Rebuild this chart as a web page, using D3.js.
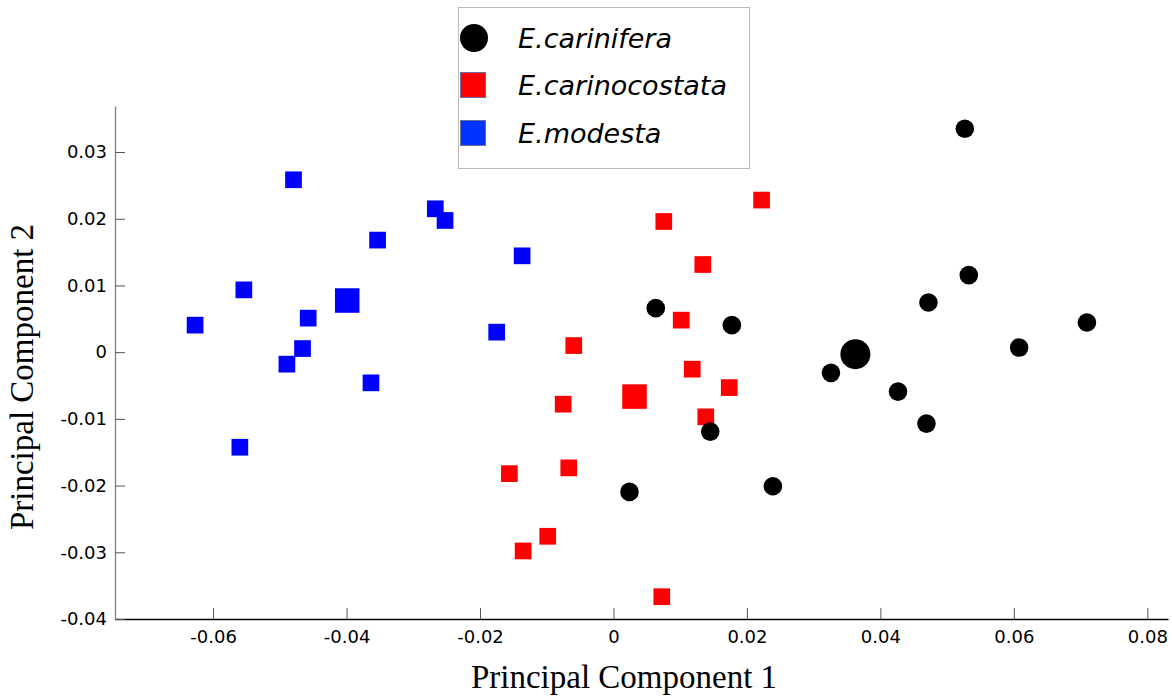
<!DOCTYPE html>
<html>
<head>
<meta charset="utf-8">
<script src="https://cdn.jsdelivr.net/npm/d3@7"></script>
<style>
  body { margin: 0; background: #fff; }
  svg { display: block; }
</style>
</head>
<body>
<div id="main"></div>
<script>
// PC scores, [PC1, PC2]
const modesta = [
    [-0.04795, 0.02584], [-0.02670, 0.02149], [-0.02524, 0.01974], [-0.03535, 0.01680],
    [-0.01369, 0.01444], [-0.05539, 0.00934], [-0.04575, 0.00510], [-0.06270, 0.00405],
    [-0.01750, 0.00300], [-0.04660, 0.00054], [-0.04894, -0.00180], [-0.03634, -0.00460],
    [-0.05599, -0.01425]
];
const carinocostata = [
    [0.02220, 0.02280], [0.00754, 0.01959], [0.01339, 0.01314], [0.01015, 0.00480],
    [-0.00595, 0.00099], [0.01180, -0.00255], [0.01735, -0.00531], [-0.00754, -0.00780],
    [0.01384, -0.00970], [-0.00670, -0.01735], [-0.01560, -0.01821], [-0.00985, -0.02760],
    [-0.01354, -0.02980], [0.00724, -0.03666]
];
const carinifera = [
    [0.05265, 0.03349], [0.05325, 0.01155], [0.04720, 0.00744], [0.00634, 0.00660],
    [0.01774, 0.00405], [0.07095, 0.00444], [0.06079, 0.00069], [0.03259, -0.00310],
    [0.04264, -0.00591], [0.04690, -0.01071], [0.01450, -0.01191], [0.00240, -0.02095],
    [0.02389, -0.02010]
];
// group centres (drawn bigger)
const centroids = {
    modesta: [-0.03990, 0.00774],
    carinocostata: [0.00315, -0.00666],
    carinifera: [0.03625, -0.00030]
};

const xTicks = [-0.06, -0.04, -0.02, 0, 0.02, 0.04, 0.06, 0.08];
const yTicks = [-0.04, -0.03, -0.02, -0.01, 0, 0.01, 0.02, 0.03];
const legendItems = [
    {name: "E.carinifera", shape: "circle", color: "#000000"},
    {name: "E.carinocostata", shape: "square", color: "#ff0000"},
    {name: "E.modesta", shape: "square", color: "#0033ff"}
];

const ctx = {
    w: 1172,
    h: 700,
    SQ: 16.7,
    SQ_BIG: 24.5,
    R: 9.3,
    R_BIG: 15
};

const x = d3.scaleLinear().domain([-0.0747, 0.0831]).range([115, 1168]);
const y = d3.scaleLinear().domain([-0.04, 0.0369]).range([619, 106]);

function fmt(d) { return d === 0 ? "0" : d.toFixed(2); }

function drawAxes(svg) {
    let gx = svg.append("g")
        .attr("transform", `translate(0,${y.range()[0]})`)
        .call(d3.axisBottom(x).tickValues(xTicks).tickFormat(fmt)
              .tickSize(-11).tickSizeOuter(0).tickPadding(11.5));
    gx.select(".domain").attr("stroke", "#000").attr("stroke-width", 1.3);
    gx.selectAll(".tick line").attr("stroke", "#555");

    let gy = svg.append("g")
        .attr("transform", `translate(${x.range()[0]},0)`)
        .call(d3.axisLeft(y).tickValues(yTicks).tickFormat(fmt)
              .tickSize(-10).tickSizeOuter(0).tickPadding(8));
    gy.select(".domain").attr("stroke", "#808080").attr("stroke-width", 1.3);
    gy.selectAll(".tick line").attr("stroke", "#555");

    svg.selectAll(".tick text")
        .attr("font-family", "DejaVu Sans")
        .attr("font-size", 18)
        .attr("fill", "#000");

    svg.append("text")
        .attr("x", 624).attr("y", 688)
        .attr("text-anchor", "middle")
        .attr("font-family", "Liberation Serif")
        .attr("font-size", 33)
        .text("Principal Component 1");

    svg.append("text")
        .attr("transform", "translate(33,377) rotate(-90)")
        .attr("text-anchor", "middle")
        .attr("font-family", "Liberation Serif")
        .attr("font-size", 33)
        .text("Principal Component 2");
}

function drawSquares(g, data, color, size) {
    g.selectAll(null)
        .data(data)
        .enter()
        .append("rect")
        .attr("x", d => x(d[0]) - size / 2)
        .attr("y", d => y(d[1]) - size / 2)
        .attr("width", size)
        .attr("height", size)
        .attr("fill", color);
}

function drawCircles(g, data, r) {
    g.selectAll(null)
        .data(data)
        .enter()
        .append("circle")
        .attr("cx", d => x(d[0]))
        .attr("cy", d => y(d[1]))
        .attr("r", r)
        .attr("fill", "#000");
}

function drawPoints(svg) {
    let g = svg.append("g").attr("id", "points");
    drawSquares(g, modesta, "#0000ff", ctx.SQ);
    drawSquares(g, [centroids.modesta], "#0000ff", ctx.SQ_BIG);
    drawSquares(g, carinocostata, "#ff0000", ctx.SQ);
    drawSquares(g, [centroids.carinocostata], "#ff0000", ctx.SQ_BIG);
    drawCircles(g, carinifera, ctx.R);
    drawCircles(g, [centroids.carinifera], ctx.R_BIG);
}

function drawLegend(svg) {
    let lg = svg.append("g").attr("id", "legend");
    lg.append("rect")
        .attr("x", 458.5).attr("y", 7.5)
        .attr("width", 291).attr("height", 161)
        .attr("fill", "#fff")
        .attr("stroke", "#bdbdbd");
    let rowY = [38, 85, 133];
    legendItems.forEach(function (it, i) {
        if (it.shape === "circle") {
            lg.append("circle")
                .attr("cx", 474).attr("cy", rowY[i]).attr("r", 14)
                .attr("fill", it.color);
        } else {
            lg.append("rect")
                .attr("x", 460.5).attr("y", rowY[i] - 12.5)
                .attr("width", 25).attr("height", 25)
                .attr("fill", it.color)
                .attr("stroke", "#6a7199").attr("stroke-width", 1);
        }
        lg.append("text")
            .attr("x", 518).attr("y", rowY[i] + 9.5)
            .attr("font-family", "DejaVu Sans")
            .attr("font-style", "italic")
            .attr("font-size", 27)
            .attr("fill", "#000")
            .text(it.name);
    });
}

function createViz() {
    let svgEl = d3.select("#main").append("svg")
        .attr("width", ctx.w)
        .attr("height", ctx.h);
    drawAxes(svgEl);
    drawPoints(svgEl);
    drawLegend(svgEl);
}

createViz();
</script>
</body>
</html>
